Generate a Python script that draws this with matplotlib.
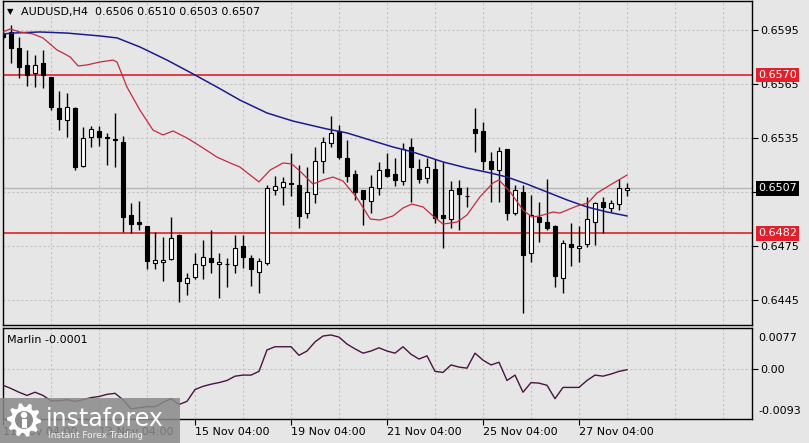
import matplotlib
matplotlib.use("Agg")
import matplotlib.pyplot as plt
from matplotlib.patches import Rectangle, Polygon, Circle
import numpy as np

# ---------------- data ----------------
bar_index = list(range(-1, 78))

opens = [.65928, .65939, .65850, .65756, .65711, .65767, .65689, .65517, .65450, .65517,
         .65194, .65356, .65389, .65356, .65344, .65328, .64922, .64883, .64861, .64656,
         .64661, .64678, .64811, .64544, .64578, .64644, .64683, .64650, .64650, .64644,
         .64750, .64683, .64606, .64656, .65061, .65078, .65100, .65089, .64933, .65039,
         .65222, .65322, .65389, .65239, .65150, .65061, .65000, .65072, .65178, .65150,
         .65111, .65300, .65178, .65128, .65178, .64922, .64900, .65072, .65028, .65400,
         .65389, .65222, .65172, .65289, .64933, .65050, .64711, .64911, .64883, .64861,
         .64572, .64761, .64739, .64761, .64883, .64994, .64961, .64983, .6506]
highs = [.65956, .65978, .65911, .65839, .65811, .65839, .65689, .65611, .65600, .65522,
         .65411, .65417, .65417, .65378, .65489, .65361, .64989, .65000, .64861, .64828,
         .64800, .64911, .64817, .64600, .64711, .64783, .64839, .64711, .64683, .64811,
         .64811, .64700, .64683, .65089, .65139, .65133, .65267, .65200, .65189, .65300,
         .65356, .65472, .65422, .65339, .65172, .65061, .65144, .65217, .65267, .65239,
         .65322, .65350, .65233, .65239, .65233, .65217, .65111, .65117, .65078, .65517,
         .65439, .65272, .65300, .65289, .65089, .65089, .65033, .64994, .65122, .64867,
         .64783, .64878, .64861, .65022, .64994, .65022, .65006, .65122, .6510]
lows = [.65900, .65767, .65683, .65639, .65633, .65628, .65506, .65394, .65356, .65172,
        .65189, .65300, .65306, .65200, .65189, .64828, .64822, .64839, .64622, .64622,
        .64556, .64672, .64439, .64478, .64567, .64567, .64600, .64461, .64522, .64600,
        .64628, .64528, .64489, .64644, .65033, .64978, .65028, .64850, .64906, .64989,
        .65156, .65300, .65233, .65106, .65006, .64867, .64933, .65033, .65133, .65083,
        .65089, .64994, .65100, .65100, .64878, .64739, .64850, .64839, .64967, .65272,
        .65172, .64994, .64994, .64894, .64922, .64378, .64661, .64772, .64839, .64522,
        .64489, .64639, .64661, .64744, .64756, .64822, .64939, .64950, .6503]
closes = [.65911, .65850, .65744, .65700, .65756, .65700, .65522, .65456, .65522, .65189,
          .65350, .65400, .65356, .65350, .65339, .64911, .64872, .64872, .64667, .64672,
          .64672, .64794, .64556, .64572, .64650, .64689, .64661, .64661, .64648, .64739,
          .64689, .64622, .64667, .65072, .65083, .65106, .65097, .64917, .65050, .65222,
          .65328, .65378, .65244, .65139, .65050, .65011, .65078, .65172, .65139, .65117,
          .65289, .65189, .65122, .65189, .64906, .64906, .65061, .65039, .65025, .65378,
          .65222, .65178, .65278, .64933, .65061, .64700, .64922, .64883, .64850, .64583,
          .64767, .64744, .64750, .64900, .64989, .64967, .64989, .65072, .6507]

marlin = [-0.0030, -0.0036, -0.0043, -0.0049, -0.0043, -0.0049, -0.0059, -0.0059, -0.0057, -0.0060,
          -0.0057, -0.0053, -0.0051, -0.0047, -0.0045, -0.0057, -0.0074, -0.0072, -0.0070, -0.0070,
          -0.0062, -0.0055, -0.0066, -0.0060, -0.0038, -0.0032, -0.0028, -0.0025, -0.0021, -0.0013,
          -0.0011, -0.0011, -0.0004, 0.0036, 0.0042, 0.0042, 0.0042, 0.0026, 0.0034, 0.0051,
          0.0062, 0.0064, 0.0060, 0.0047, 0.0038, 0.0030, 0.0034, 0.0040, 0.0034, 0.0030,
          0.0042, 0.0028, 0.0019, 0.0025, -0.0004, -0.0006, 0.0008, 0.0004, 0.0002, 0.0030,
          0.0017, 0.0008, 0.0013, -0.0021, -0.0011, -0.0043, -0.0025, -0.0026, -0.0030, -0.0055,
          -0.0034, -0.0034, -0.0034, -0.0021, -0.0011, -0.0013, -0.0009, -0.0004, -0.0001]

slow_ma_idx = [-1, 0.25, 3.6, 7, 11.1, 13.25, 16.1, 19.5, 22.75, 25.75, 28.6, 32, 35.25, 39.5,
               42, 44.5, 47.75, 50.25, 54, 57, 59.9, 62, 64.5, 67, 69.5, 72, 74.5, 77]
slow_ma_val = [.65928, .65933, .65939, .65933, .65917, .65906, .65856, .65783, .65706, .65633,
               .65561, .65489, .65444, .65400, .65378, .65344, .65300, .65272, .65217, .65183,
               .65156, .65133, .65094, .65050, .65006, .64967, .64939, .64917]

fast_ma_idx = [-1, -0.1, 1.1, 2.75, 4, 5.75, 6.5, 7.4, 8.4, 9.5, 11.1, 12.75, 13.25, 14.5, 16.1,
               17.75, 19, 20.25, 22, 23.6, 25.75, 27.4, 28.6, 31, 32.4, 34, 35.1, 36.1, 37.75, 39,
               40.25, 41.5, 43.25, 44.9, 46.1, 47.75, 49, 50.1, 51.5, 52.75, 54, 55.75, 57, 58.6,
               60.25, 61, 62.4, 64, 65.1, 66.1, 67.75, 68.6, 70.75, 72.1, 73.25, 74.9, 77]
fast_ma_val = [.65939, .65956, .65939, .65928, .65906, .65839, .65822, .65800, .65750, .65756,
               .65772, .65783, .65772, .65633, .65506, .65394, .65367, .65389, .65350, .65306,
               .65244, .65211, .65189, .65106, .65172, .65211, .65206, .65167, .65094, .65117,
               .65133, .65111, .65017, .64900, .64894, .64917, .64961, .64983, .64967, .64917,
               .64872, .64883, .64922, .65022, .65100, .65117, .65050, .64950, .64911, .64917,
               .64939, .64933, .64972, .64989, .65044, .65089, .65144]

price_ticks = [0.6445, 0.6475, 0.6505, 0.6535, 0.6565, 0.6595]
level_high = 0.6570
level_low = 0.6482
last_price = 0.6507
date_tick_index = [-1, 11, 23, 35, 47, 59, 71]
date_tick_labels = ["11 Nov 04:00", "13 Nov 04:00", "15 Nov 04:00", "19 Nov 04:00",
                    "21 Nov 04:00", "25 Nov 04:00", "27 Nov 04:00"]
marlin_max = 0.0077
marlin_min = -0.0093
title_text = "AUDUSD,H4  0.6506 0.6510 0.6503 0.6507"
marlin_text = "Marlin -0.0001"

# ---------------- layout ----------------
W, H = 809, 443
BG = "#e6e6e6"
GRID = "#c2c2c2"
fig = plt.figure(figsize=(W / 100, H / 100), dpi=100, facecolor=BG)


def px_rect(x0, y0, x1, y1):
    return [x0 / W, 1 - y1 / H, (x1 - x0) / W, (y1 - y0) / H]


ax = fig.add_axes(px_rect(3, 1, 752, 325))
ax2 = fig.add_axes(px_rect(3, 328, 752, 419))
XMIN, XMAX = -1, 92.625
for a in (ax, ax2):
    a.set_facecolor(BG)
    a.set_xlim(XMIN, XMAX)
    for s in a.spines.values():
        s.set_color("black")
        s.set_linewidth(1)
    for k in range(-1, 93, 6):
        a.axvline(k, color=GRID, ls=(0, (2, 2)), lw=0.8, zorder=0)

ax.set_ylim(0.643111, 0.661111)
for p in price_ticks:
    ax.axhline(p, color=GRID, ls=(0, (2, 2)), lw=0.8, zorder=0)

# levels
ax.axhline(last_price, color="#b8b8b8", lw=1, zorder=1)
ax.axhline(level_high, color="#e0202c", lw=1.2, zorder=1.5)
ax.axhline(level_low, color="#e0202c", lw=1.2, zorder=1.5)

# candles
x = np.array(bar_index, dtype=float)
o = np.array(opens); c = np.array(closes); h = np.array(highs); l = np.array(lows)
up = c >= o
ax.vlines(x, l, h, color="black", lw=1, zorder=2)
body_bottom = np.minimum(o, c)
body_h = np.maximum(np.abs(c - o), 0.000012)
ax.bar(x, body_h, bottom=body_bottom, width=0.62,
       color=np.where(up, "white", "black"), edgecolor="black", linewidth=0.8, zorder=3)

# moving averages
ax.plot(slow_ma_idx, slow_ma_val, color="#1c1c8e", lw=1.1, zorder=4)
ax.plot(fast_ma_idx, fast_ma_val, color="#c42a40", lw=0.9, zorder=4)

# right price axis
ax.yaxis.tick_right()
ax.set_yticks(price_ticks)
ax.set_yticklabels([f"{p:.4f}" for p in price_ticks])
ax.tick_params(axis="y", length=4, width=0.8, pad=2, labelsize=8, colors="black")
ax.tick_params(axis="x", bottom=False, labelbottom=False)


def tag(axis, y, txt, fc):
    axis.annotate(txt, xy=(1, y), xycoords=("axes fraction", "data"), xytext=(4.3, 0),
                  textcoords="offset points", ha="left", va="center", fontsize=8,
                  color="white", annotation_clip=False, zorder=10,
                  bbox=dict(boxstyle="square,pad=0.22", fc=fc, ec="none"))


tag(ax, level_high, f"{level_high:.4f}", "#e0202c")
tag(ax, level_low, f"{level_low:.4f}", "#e0202c")
tag(ax, last_price, f"{last_price:.4f}", "black")

fig.text(7 / W, 1 - 12 / H, "▼", fontsize=6, va="center", ha="left", color="black")
fig.text(21 / W, 1 - 12 / H, title_text, fontsize=8, va="center", ha="left", color="black")

# ---------------- indicator panel ----------------
ax2.set_ylim(marlin_min, marlin_max)
ax2.axhline(0, color=GRID, ls=(0, (2, 2)), lw=0.8, zorder=0)
ax2.plot(bar_index, marlin, color="#4a1440", lw=1, zorder=3)
ax2.yaxis.tick_right()
ax2.set_yticks([0])
ax2.set_yticklabels(["0.00"])
ax2.tick_params(axis="y", length=4, width=0.8, pad=2, labelsize=8)
ax2.annotate(f"{marlin_max:.4f}", xy=(1, 0.89), xycoords="axes fraction", xytext=(4.3, 0),
             textcoords="offset points", ha="left", va="center", fontsize=8, annotation_clip=False)
ax2.annotate(f"{marlin_min:.4f}", xy=(1, 0.088), xycoords="axes fraction", xytext=(4.3, 0),
             textcoords="offset points", ha="left", va="center", fontsize=8, annotation_clip=False)
ax2.set_xticks(date_tick_index)
ax2.set_xticklabels(date_tick_labels, ha="left")
ax2.tick_params(axis="x", length=4, width=0.8, pad=2, labelsize=8)
fig.text(7 / W, 1 - 340 / H, marlin_text, fontsize=8, va="center", ha="left")

# ---------------- logo ----------------
lg = fig.add_axes(px_rect(0, 398, 180, 443))
lg.set_xlim(0, 180)
lg.set_ylim(45, 0)
lg.axis("off")
lg.add_patch(Rectangle((0, 0), 180, 45, fc="#8a8a8a", ec="none", alpha=0.85))
teeth = 10
ang = np.linspace(0, 2 * np.pi, teeth * 4, endpoint=False)
rad = np.tile([17, 17, 13, 13], teeth)
lg.add_patch(Polygon(np.c_[24 + rad * np.cos(ang), 22 + rad * np.sin(ang)], closed=True,
                     fc="white", ec="none"))
lg.add_patch(Circle((24, 22), 9, fc="#8a8a8a", ec="none"))
lg.add_patch(Circle((24, 17), 3.2, fc="white", ec="none"))
lg.add_patch(Rectangle((21.5, 21), 5, 9, fc="white", ec="none"))
lg.text(46, 21, "instaforex", fontsize=17, color="white", va="center", ha="left")
lg.text(48, 38, "Instant Forex Trading", fontsize=6.5, color="#f0f0f0", va="center", ha="left")

fig.savefig("out.png", dpi=100, facecolor=BG)
